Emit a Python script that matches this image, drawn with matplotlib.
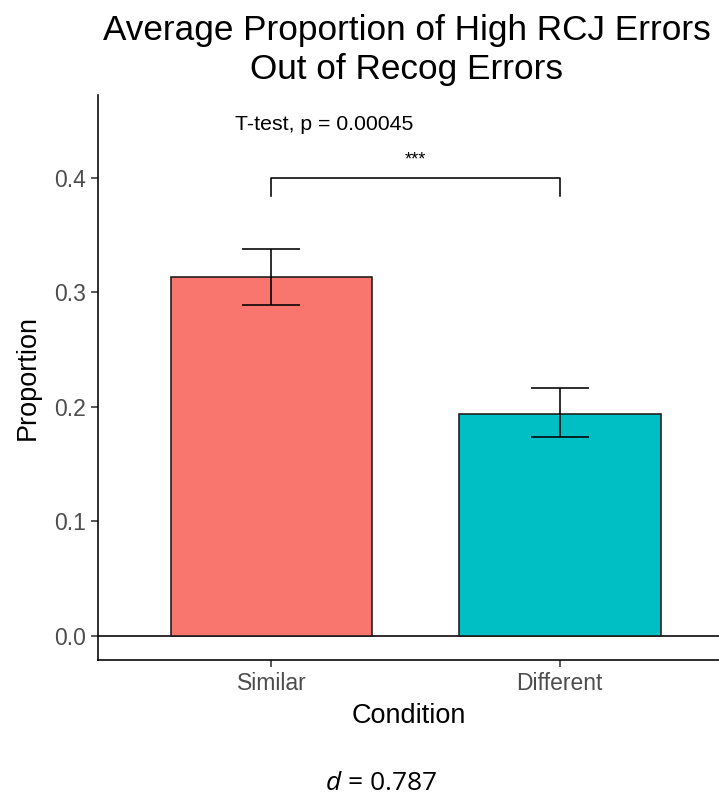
import numpy as np
import matplotlib
matplotlib.use('Agg')
import matplotlib.pyplot as plt

# Data
conditions = ['Similar', 'Different']
means = [0.3135, 0.1942]
ci_low = [0.289, 0.1735]
ci_high = [0.338, 0.2165]
bar_colors = ['#F8766D', '#00BFC4']
y_ticks = [0.0, 0.1, 0.2, 0.3, 0.4]
p_label = 'T-test, p = 0.00045'
sig_label = '***'
effect_size = 0.787

plt.rcParams['font.family'] = ['Liberation Sans', 'DejaVu Sans']
plt.rcParams['mathtext.fontset'] = 'custom'
plt.rcParams['mathtext.it'] = 'Open Sans:italic'
plt.rcParams['mathtext.rm'] = 'Open Sans'

fig = plt.figure(figsize=(7.19, 7.96), dpi=100)
ax = fig.add_axes([98 / 719, 136 / 796, 621 / 719, 565 / 796])

lw = 1.15
x = np.arange(1, len(conditions) + 1)
ax.bar(x, means, width=0.7, color=bar_colors, edgecolor='#1a1a1a', linewidth=lw, zorder=2)
yerr = [np.array(means) - np.array(ci_low), np.array(ci_high) - np.array(means)]
ax.errorbar(x, means, yerr=yerr, fmt='none', ecolor='black', elinewidth=lw,
            capsize=21, capthick=lw, zorder=3)

# horizontal reference line at zero
ax.axhline(0, color='black', linewidth=lw, zorder=1)

# significance bracket
ax.plot([1, 1, 2, 2], [0.384, 0.4, 0.4, 0.384], color='black', linewidth=lw)
ax.text(1.5, 0.408, sig_label, ha='center', va='bottom', fontsize=13)
ax.text(0.873, 0.447, p_label, ha='left', va='center', fontsize=15.3)

ax.set_xlim(0.398, 2.553)
ax.set_ylim(-0.021, 0.4725)
ax.set_xticks(x)
ax.set_xticklabels(conditions)
ax.set_yticks(y_ticks)
ax.set_yticklabels([f'{t:.1f}' for t in y_ticks])
ax.tick_params(axis='both', labelsize=16.5, labelcolor='#4D4D4D', color='#333333',
               length=5, width=lw)

for side in ['top', 'right']:
    ax.spines[side].set_visible(False)
for side in ['left', 'bottom']:
    ax.spines[side].set_linewidth(lw)
    ax.spines[side].set_color('black')

ax.set_xlabel('Condition', fontsize=19.5, labelpad=6)
ax.set_ylabel('Proportion', fontsize=19.5, labelpad=10)

fig.text(407 / 719, 1 - 50 / 796, 'Average Proportion of High RCJ Errors\nOut of Recog Errors',
         ha='center', va='center', fontsize=25.3, linespacing=1.25)

fig.text(381 / 719, 1 - 783 / 796, r'$d$ = ' + f'{effect_size:.3f}', ha='center', va='center',
         fontsize=19, family=['Open Sans', 'DejaVu Sans'])

plt.savefig('out.png', dpi=100)
